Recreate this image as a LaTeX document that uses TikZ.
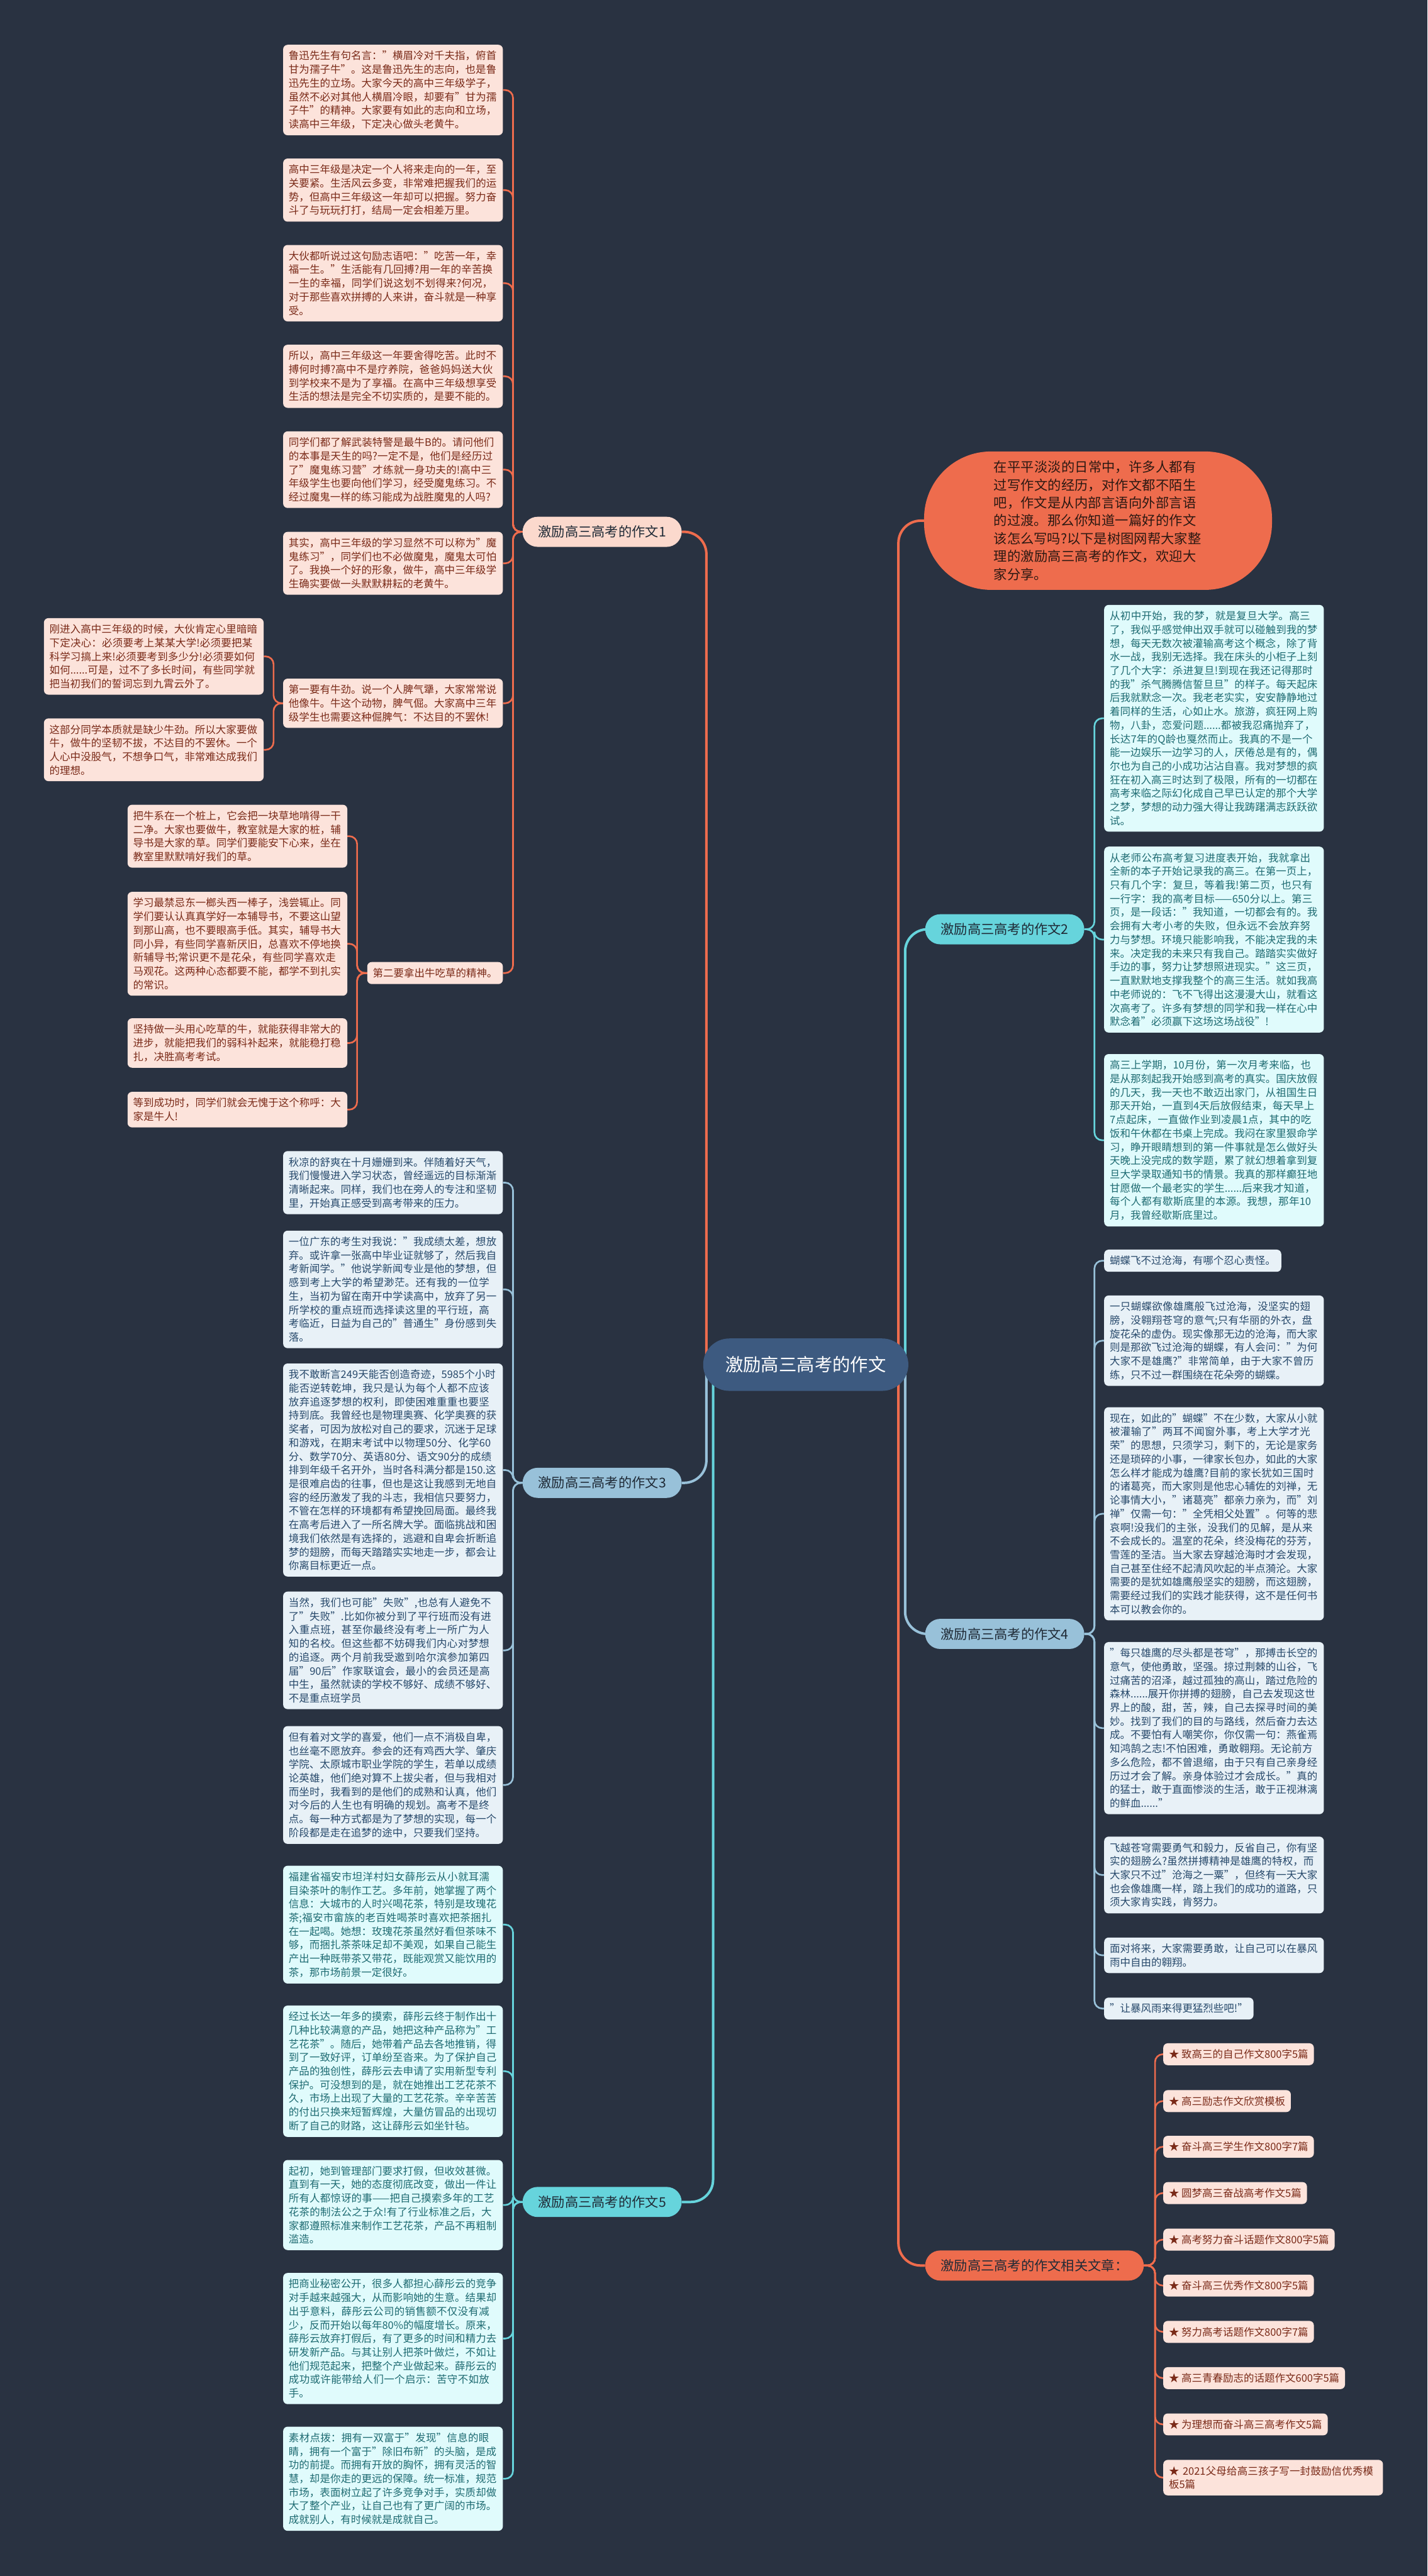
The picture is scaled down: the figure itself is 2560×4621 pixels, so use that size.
\documentclass[tikz,border=0pt]{standalone}
\usepackage{fontspec}
\setmainfont{Noto Sans CJK SC}
\usetikzlibrary{calc}
\XeTeXlinebreaklocale "zh"
\XeTeXlinebreakskip=0pt plus 1pt
\definecolor{navy}{HTML}{293241}
\definecolor{rootblue}{HTML}{3D5A80}
\definecolor{coral}{HTML}{EE6C4D}
\definecolor{coraltint}{HTML}{FCE3DB}
\definecolor{coralink}{HTML}{7A2A18}
\definecolor{peach}{HTML}{FBD9CD}
\definecolor{aqua}{HTML}{66D4DC}
\definecolor{aquatint}{HTML}{E0FBFC}
\definecolor{aquaink}{HTML}{1E6B72}
\definecolor{sky}{HTML}{98C1D9}
\definecolor{skytint}{HTML}{E8F1F7}
\definecolor{skyink}{HTML}{27496B}
\definecolor{branchink}{HTML}{1F2A36}
\definecolor{introink}{HTML}{2B1812}
\newcommand{\leaftxt}{\fontsize{18.6}{24.5}\selectfont}
\newcommand{\branchtxt}{\fontsize{24}{30}\selectfont}
\newcommand{\roottxt}{\fontsize{32}{40}\selectfont}
\newcommand{\introtxt}{\fontsize{24}{32}\selectfont}
\pgfdeclarelayer{back}
\pgfdeclarelayer{wires}
\pgfsetlayers{back,wires,main}
\tikzset{
  leaf/.style={rounded corners=8pt,inner xsep=10pt,inner ysep=11pt,align=left,text width=374pt,font=\leaftxt},
  tag/.style={rounded corners=8pt,inner xsep=10pt,inner ysep=11pt,align=left,font=\leaftxt},
  hot/.style={fill=coraltint,text=coralink},
  cool/.style={fill=aquatint,text=aquaink},
  pale/.style={fill=skytint,text=skyink},
  branch/.style={rounded corners=27pt,minimum height=54pt,inner xsep=28pt,font=\branchtxt,text=branchink},
  twig/.style={line width=3pt,rounded corners=14pt},
  limb/.style={line width=4.5pt,rounded corners=40pt},
}

\begin{document}
\begin{tikzpicture}[x=1pt,y=-1pt]
\useasboundingbox (0,0) rectangle (2560,4621);
\begin{pgfonlayer}{back}
\fill[navy] (0,0) rectangle (2560,4621);
\end{pgfonlayer}

\node[fill=rootblue,text=white,font=\roottxt,rounded corners=47pt,minimum height=94pt,inner xsep=40pt] (root) at (1445,2448) {激励高三高考的作文};
\node[fill=coral,text=introink,font=\introtxt,rounded corners=120pt,inner xsep=125pt,inner ysep=17pt,text width=374pt,align=left,anchor=west] (intro) at (1657,934) {在平平淡淡的日常中，许多人都有过写作文的经历，对作文都不陌生吧，作文是从内部言语向外部言语的过渡。那么你知道一篇好的作文该怎么写吗?以下是树图网帮大家整理的激励高三高考的作文，欢迎大家分享。};

\node[branch,fill=peach,anchor=west] (w1) at (937,954) {激励高三高考的作文1};
\node[branch,fill=aqua,anchor=west] (w2) at (1659,1667) {激励高三高考的作文2};
\node[branch,fill=sky,anchor=west] (w3) at (937,2660) {激励高三高考的作文3};
\node[branch,fill=sky,anchor=west] (w4) at (1659,2931) {激励高三高考的作文4};
\node[branch,fill=aqua,anchor=west] (w5) at (937,3950) {激励高三高考的作文5};
\node[branch,fill=coral,anchor=west] (rel) at (1659,4064) {激励高三高考的作文相关文章：};

\node[leaf,hot,anchor=east] (L1) at (902,161.5) {鲁迅先生有句名言："横眉冷对千夫指，俯首甘为孺子牛"。这是鲁迅先生的志向，也是鲁迅先生的立场。大家今天的高中三年级学子，虽然不必对其他人横眉冷眼，却要有"甘为孺子牛"的精神。大家要有如此的志向和立场，读高中三年级，下定决心做头老黄牛。};
\node[leaf,hot,anchor=east] (L2) at (902,341) {高中三年级是决定一个人将来走向的一年，至关要紧。生活风云多变，非常难把握我们的运势，但高中三年级这一年却可以把握。努力奋斗了与玩玩打打，结局一定会相差万里。};
\node[leaf,hot,anchor=east] (L3) at (902,508) {大伙都听说过这句励志语吧："吃苦一年，幸福一生。"生活能有几回搏?用一年的辛苦换一生的幸福，同学们说这划不划得来?何况，对于那些喜欢拼搏的人来讲，奋斗就是一种享受。};
\node[leaf,hot,anchor=east] (L4) at (902,675) {所以，高中三年级这一年要舍得吃苦。此时不搏何时搏?高中不是疗养院，爸爸妈妈送大伙到学校来不是为了享福。在高中三年级想享受生活的想法是完全不切实质的，是要不能的。};
\node[leaf,hot,anchor=east] (L5) at (902,842.5) {同学们都了解武装特警是最牛B的。请问他们的本事是天生的吗?一定不是，他们是经历过了"魔鬼练习营"才练就一身功夫的!高中三年级学生也要向他们学习，经受魔鬼练习。不经过魔鬼一样的练习能成为战胜魔鬼的人吗?};
\node[leaf,hot,anchor=east] (L6) at (902,1010.5) {其实，高中三年级的学习显然不可以称为"魔鬼练习"，同学们也不必做魔鬼，魔鬼太可怕了。我换一个好的形象，做牛，高中三年级学生确实要做一头默默耕耘的老黄牛。};
\node[leaf,hot,anchor=east] (N1) at (902,1261.5) {第一要有牛劲。说一个人脾气犟，大家常常说他像牛。牛这个动物，脾气倔。大家高中三年级学生也需要这种倔脾气：不达目的不罢休!};
\node[leaf,hot,anchor=east] (C1) at (473,1177.5) {刚进入高中三年级的时候，大伙肯定心里暗暗下定决心：必须要考上某某大学!必须要把某科学习搞上来!必须要考到多少分!必须要如何如何......可是，过不了多长时间，有些同学就把当初我们的誓词忘到九霄云外了。};
\node[leaf,hot,anchor=east] (C2) at (473,1345) {这部分同学本质就是缺少牛劲。所以大家要做牛，做牛的坚韧不拔，不达目的不罢休。一个人心中没股气，不想争口气，非常难达成我们的理想。};
\node[tag,hot,anchor=east] (N2) at (902,1745.5) {第二要拿出牛吃草的精神。};
\node[leaf,hot,anchor=east] (D1) at (623,1500) {把牛系在一个桩上，它会把一块草地啃得一干二净。大家也要做牛，教室就是大家的桩，辅导书是大家的草。同学们要能安下心来，坐在教室里默默啃好我们的草。};
\node[leaf,hot,anchor=east] (D2) at (623,1693) {学习最禁忌东一榔头西一棒子，浅尝辄止。同学们要认认真真学好一本辅导书，不要这山望到那山高，也不要眼高手低。其实，辅导书大同小异，有些同学喜新厌旧，总喜欢不停地换新辅导书;常识更不是花朵，有些同学喜欢走马观花。这两种心态都要不能，都学不到扎实的常识。};
\node[leaf,hot,anchor=east] (D3) at (623,1871) {坚持做一头用心吃草的牛，就能获得非常大的进步，就能把我们的弱科补起来，就能稳打稳扎，决胜高考考试。};
\node[leaf,hot,anchor=east] (D4) at (623,1990.5) {等到成功时，同学们就会无愧于这个称呼：大家是牛人!};

\node[leaf,cool,anchor=west] (G1) at (1980,1288.5) {从初中开始，我的梦，就是复旦大学。高三了，我似乎感觉伸出双手就可以碰触到我的梦想，每天无数次被灌输高考这个概念，除了背水一战，我别无选择。我在床头的小柜子上刻了几个大字：杀进复旦!到现在我还记得那时的我"杀气腾腾信誓旦旦"的样子。每天起床后我就默念一次。我老老实实，安安静静地过着同样的生活，心如止水。旅游，疯狂网上购物，八卦，恋爱问题......都被我忍痛抛弃了，长达7年的Q龄也戛然而止。我真的不是一个能一边娱乐一边学习的人，厌倦总是有的，偶尔也为自己的小成功沾沾自喜。我对梦想的疯狂在初入高三时达到了极限，所有的一切都在高考来临之际幻化成自己早已认定的那个大学之梦，梦想的动力强大得让我踌躇满志跃跃欲试。};
\node[leaf,cool,anchor=west] (G2) at (1980,1685.5) {从老师公布高考复习进度表开始，我就拿出全新的本子开始记录我的高三。在第一页上，只有几个字：复旦，等着我!第二页，也只有一行字：我的高考目标——650分以上。第三页，是一段话："我知道，一切都会有的。我会拥有大考小考的失败，但永远不会放弃努力与梦想。环境只能影响我，不能决定我的未来。决定我的未来只有我自己。踏踏实实做好手边的事，努力让梦想照进现实。"这三页，一直默默地支撑我整个的高三生活。就如我高中老师说的：飞不飞得出这漫漫大山，就看这次高考了。许多有梦想的同学和我一样在心中默念着"必须赢下这场这场战役"!};
\node[leaf,cool,anchor=west] (G3) at (1980,2045.5) {高三上学期，10月份，第一次月考来临，也是从那刻起我开始感到高考的真实。国庆放假的几天，我一天也不敢迈出家门，从祖国生日那天开始，一直到4天后放假结束，每天早上7点起床，一直做作业到凌晨1点，其中的吃饭和午休都在书桌上完成。我闷在家里狠命学习，睁开眼睛想到的第一件事就是怎么做好头天晚上没完成的数学题，累了就幻想着拿到复旦大学录取通知书的情景。我真的那样癫狂地甘愿做一个最老实的学生......后来我才知道，每个人都有歇斯底里的本源。我想，那年10月，我曾经歇斯底里过。};

\node[leaf,pale,anchor=east] (E1) at (902,2121.5) {秋凉的舒爽在十月姗姗到来。伴随着好天气，我们慢慢进入学习状态，曾经遥远的目标渐渐清晰起来。同样，我们也在旁人的专注和坚韧里，开始真正感受到高考带来的压力。};
\node[leaf,pale,anchor=east] (E2) at (902,2313) {一位广东的考生对我说："我成绩太差，想放弃。或许拿一张高中毕业证就够了，然后我自考新闻学。"他说学新闻专业是他的梦想，但感到考上大学的希望渺茫。还有我的一位学生，当初为留在南开中学读高中，放弃了另一所学校的重点班而选择读这里的平行班，高考临近，日益为自己的"普通生"身份感到失落。};
\node[leaf,pale,anchor=east] (E3) at (902,2637) {我不敢断言249天能否创造奇迹，5985个小时能否逆转乾坤，我只是认为每个人都不应该放弃追逐梦想的权利，即使困难重重也要坚持到底。我曾经也是物理奥赛、化学奥赛的获奖者，可因为放松对自己的要求，沉迷于足球和游戏，在期末考试中以物理50分、化学60分、数学70分、英语80分、语文90分的成绩排到年级千名开外，当时各科满分都是150.这是很难启齿的往事，但也是这让我感到无地自容的经历激发了我的斗志，我相信只要努力，不管在怎样的环境都有希望挽回局面。最终我在高考后进入了一所名牌大学。面临挑战和困境我们依然是有选择的，逃避和自卑会折断追梦的翅膀，而每天踏踏实实地走一步，都会让你离目标更近一点。};
\node[leaf,pale,anchor=east] (E4) at (902,2960.5) {当然，我们也可能"失败",也总有人避免不了"失败".比如你被分到了平行班而没有进入重点班，甚至你最终没有考上一所广为人知的名校。但这些都不妨碍我们内心对梦想的追逐。两个月前我受邀到哈尔滨参加第四届"90后"作家联谊会，最小的会员还是高中生，虽然就读的学校不够好、成绩不够好、不是重点班学员};
\node[leaf,pale,anchor=east] (E5) at (902,3202) {但有着对文学的喜爱，他们一点不消极自卑，也丝毫不愿放弃。参会的还有鸡西大学、肇庆学院、太原城市职业学院的学生，若单以成绩论英雄，他们绝对算不上拔尖者，但与我相对而坐时，我看到的是他们的成熟和认真，他们对今后的人生也有明确的规划。高考不是终点。每一种方式都是为了梦想的实现，每一个阶段都是走在追梦的途中，只要我们坚持。};

\node[tag,pale,anchor=west] (H1) at (1980,2261.5) {蝴蝶飞不过沧海，有哪个忍心责怪。};
\node[leaf,pale,anchor=west] (H2) at (1980,2405) {一只蝴蝶欲像雄鹰般飞过沧海，没坚实的翅膀，没翱翔苍穹的意气;只有华丽的外衣，盘旋花朵的虚伪。现实像那无边的沧海，而大家则是那欲飞过沧海的蝴蝶，有人会问："为何大家不是雄鹰?"非常简单，由于大家不曾历练，只不过一群围绕在花朵旁的蝴蝶。};
\node[leaf,pale,anchor=west] (H3) at (1980,2715.5) {现在，如此的"蝴蝶"不在少数，大家从小就被灌输了"两耳不闻窗外事，考上大学才光荣"的思想，只须学习，剩下的，无论是家务还是琐碎的小事，一律家长包办，如此的大家怎么样才能成为雄鹰?目前的家长犹如三国时的诸葛亮，而大家则是他忠心辅佐的刘禅，无论事情大小，"诸葛亮"都亲力亲为，而"刘禅"仅需一句："全凭相父处置"。何等的悲哀啊!没我们的主张，没我们的见解，是从来不会成长的。温室的花朵，终没梅花的芬芳，雪莲的圣洁。当大家去穿越沧海时才会发现，自己甚至住经不起清风吹起的半点漪沦。大家需要的是犹如雄鹰般坚实的翅膀，而这翅膀，需要经过我们的实践才能获得，这不是任何书本可以教会你的。};
\node[leaf,pale,anchor=west] (H4) at (1980,3100) {"每只雄鹰的尽头都是苍穹"，那搏击长空的意气，使他勇敢，坚强。掠过荆棘的山谷，飞过痛苦的沼泽，越过孤独的高山，踏过危险的森林......展开你拼搏的翅膀，自己去发现这世界上的酸，甜，苦，辣，自己去探寻时间的美妙。找到了我们的目的与路线，然后奋力去达成。不要怕有人嘲笑你，你仅需一句：燕雀焉知鸿鹄之志!不怕困难，勇敢翱翔。无论前方多么危险，都不曾退缩，由于只有自己亲身经历过才会了解。亲身体验过才会成长。"真的的猛士，敢于直面惨淡的生活，敢于正视淋漓的鲜血......"};
\node[leaf,pale,anchor=west] (H5) at (1980,3363.5) {飞越苍穹需要勇气和毅力，反省自己，你有坚实的翅膀么?虽然拼搏精神是雄鹰的特权，而大家只不过"沧海之一粟"，但终有一天大家也会像雄鹰一样，踏上我们的成功的道路，只须大家肯实践，肯努力。};
\node[leaf,pale,anchor=west] (H6) at (1980,3507.5) {面对将来，大家需要勇敢，让自己可以在暴风雨中自由的翱翔。};
\node[tag,pale,anchor=west] (H7) at (1980,3603) {"让暴风雨来得更猛烈些吧!"};

\node[leaf,cool,anchor=east] (F1) at (902,3452.5) {福建省福安市坦洋村妇女薛彤云从小就耳濡目染茶叶的制作工艺。多年前，她掌握了两个信息：大城市的人时兴喝花茶，特别是玫瑰花茶;福安市畲族的老百姓喝茶时喜欢把茶捆扎在一起喝。她想：玫瑰花茶虽然好看但茶味不够，而捆扎茶茶味足却不美观，如果自己能生产出一种既带茶又带花，既能观赏又能饮用的茶，那市场前景一定很好。};
\node[leaf,cool,anchor=east] (F2) at (902,3715.5) {经过长达一年多的摸索，薛彤云终于制作出十几种比较满意的产品，她把这种产品称为"工艺花茶"。随后，她带着产品去各地推销，得到了一致好评，订单纷至沓来。为了保护自己产品的独创性，薛彤云去申请了实用新型专利保护。可没想到的是，就在她推出工艺花茶不久，市场上出现了大量的工艺花茶。辛辛苦苦的付出只换来短暂辉煌，大量仿冒品的出现切断了自己的财路，这让薛彤云如坐针毡。};
\node[leaf,cool,anchor=east] (F3) at (902,3955.5) {起初，她到管理部门要求打假，但收效甚微。直到有一天，她的态度彻底改变，做出一件让所有人都惊讶的事——把自己摸索多年的工艺花茶的制法公之于众!有了行业标准之后，大家都遵照标准来制作工艺花茶，产品不再粗制滥造。};
\node[leaf,cool,anchor=east] (F4) at (902,4195) {把商业秘密公开，很多人都担心薛彤云的竞争对手越来越强大，从而影响她的生意。结果却出乎意料，薛彤云公司的销售额不仅没有减少，反而开始以每年80\%的幅度增长。原来，薛彤云放弃打假后，有了更多的时间和精力去研发新产品。与其让别人把茶叶做烂，不如让他们规范起来，把整个产业做起来。薛彤云的成功或许能带给人们一个启示：苦守不如放手。};
\node[leaf,cool,anchor=east] (F5) at (902,4446.5) {素材点拨：拥有一双富于"发现"信息的眼睛，拥有一个富于"除旧布新"的头脑，是成功的前提。而拥有开放的胸怀，拥有灵活的智慧，却是你走的更远的保障。统一标准，规范市场，表面树立起了许多竞争对手，实质却做大了整个产业，让自己也有了更广阔的市场。成就别人，有时候就是成就自己。};

\node[tag,hot,anchor=west] (R1) at (2086,3685) {★ 致高三的自己作文800字5篇};
\node[tag,hot,anchor=west] (R2) at (2086,3769) {★ 高三励志作文欣赏模板};
\node[tag,hot,anchor=west] (R3) at (2086,3851) {★ 奋斗高三学生作文800字7篇};
\node[tag,hot,anchor=west] (R4) at (2086,3934) {★ 圆梦高三奋战高考作文5篇};
\node[tag,hot,anchor=west] (R5) at (2086,4017.5) {★ 高考努力奋斗话题作文800字5篇};
\node[tag,hot,anchor=west] (R6) at (2086,4100) {★ 奋斗高三优秀作文800字5篇};
\node[tag,hot,anchor=west] (R7) at (2086,4183) {★ 努力高考话题作文800字7篇};
\node[tag,hot,anchor=west] (R8) at (2086,4266) {★ 高三青春励志的话题作文600字5篇};
\node[tag,hot,anchor=west] (R9) at (2086,4349) {★ 为理想而奋斗高三高考作文5篇};
\node[leaf,hot,anchor=west] (R10) at (2086,4444.5) {★ 2021父母给高三孩子写一封鼓励信优秀模板5篇};

\begin{pgfonlayer}{wires}
\draw[limb,coral] ([xshift=6]root.west) |- (w1.east);
\draw[limb,sky] ([xshift=6]root.west) |- (w3.east);
\draw[limb,aqua] ([xshift=18]root.west) |- (w5.east);
\draw[limb,coral] ([xshift=-18]root.east) |- (intro.west);
\draw[limb,aqua] ([xshift=-6]root.east) |- (w2.west);
\draw[limb,sky] ([xshift=-6]root.east) |- (w4.west);
\draw[limb,coral] ([xshift=-18]root.east) |- (rel.west);
\foreach \n in {L1,L2,L3,L4,L5,L6,N1,N2}
  \draw[twig,coral] (w1.west) -- ++(-17,0) |- (\n.east);
\foreach \n in {C1,C2}
  \draw[twig,coral] (N1.west) -- ++(-17,0) |- (\n.east);
\foreach \n in {D1,D2,D3,D4}
  \draw[twig,coral] (N2.west) -- ++(-18,0) |- (\n.east);
\foreach \n in {G1,G2,G3}
  \draw[twig,aqua] (w2.east) -- ++(18,0) |- (\n.west);
\foreach \n in {E1,E2,E3,E4,E5}
  \draw[twig,sky] (w3.west) -- ++(-17,0) |- (\n.east);
\foreach \n in {H1,H2,H3,H4,H5,H6,H7}
  \draw[twig,sky] (w4.east) -- ++(18,0) |- (\n.west);
\foreach \n in {F1,F2,F3,F4,F5}
  \draw[twig,aqua] (w5.west) -- ++(-17,0) |- (\n.east);
\foreach \n in {R1,R2,R3,R4,R5,R6,R7,R8,R9,R10}
  \draw[twig,coral] (rel.east) -- ++(20,0) |- (\n.west);
\end{pgfonlayer}
\end{tikzpicture}
\end{document}
